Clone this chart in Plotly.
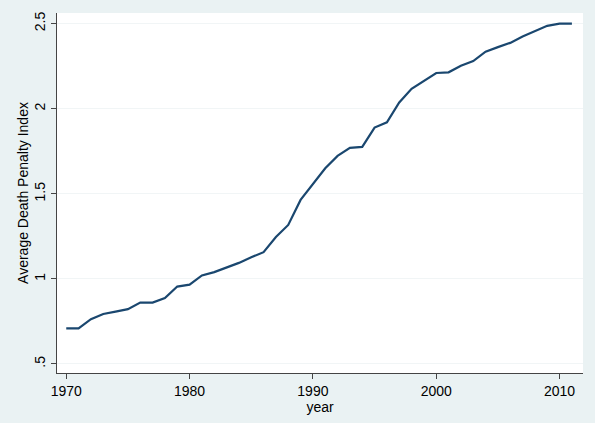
import plotly.graph_objects as go

years = list(range(1970, 2012))
index_vals = [0.709, 0.709, 0.763, 0.794, 0.808, 0.822, 0.861, 0.861, 0.888, 0.955,
              0.966, 1.020, 1.040, 1.067, 1.094, 1.127, 1.157, 1.246, 1.317, 1.464,
              1.556, 1.650, 1.723, 1.770, 1.776, 1.889, 1.920, 2.037, 2.117, 2.165,
              2.210, 2.214, 2.253, 2.280, 2.335, 2.362, 2.387, 2.424, 2.457, 2.487,
              2.500, 2.500]
y_ticks = [0.5, 1, 1.5, 2, 2.5]
y_ticklabels = [".5", "1", "1.5", "2", "2.5"]
x_ticks = [1970, 1980, 1990, 2000, 2010]

fig = go.Figure()
fig.add_trace(go.Scatter(x=years, y=index_vals, mode="lines",
                         line=dict(color="#1A476F", width=2.2), showlegend=False))

font = dict(family="Liberation Sans, Arial, sans-serif", size=14, color="#000000")
title_font = dict(family="Liberation Sans, Arial, sans-serif", size=14, color="#000000")
fig.update_layout(
    width=595, height=423,
    margin=dict(l=57, r=12, t=12, b=49),
    paper_bgcolor="#EAF2F3", plot_bgcolor="#FFFFFF",
    font=font,
    xaxis=dict(range=[1969.25, 2011.9], tickvals=x_ticks, ticks="outside", ticklen=5,
               tickcolor="#444", showline=True, linecolor="#444", linewidth=1.3,
               showgrid=False, zeroline=False,
               title=dict(text="year", standoff=2, font=title_font),
               tickfont=font),
    yaxis=dict(range=[0.447, 2.5625], tickvals=y_ticks, ticktext=y_ticklabels,
               tickangle=-90, ticks="outside", ticklen=5, tickcolor="#444",
               showline=True, linecolor="#444", linewidth=1.3,
               showgrid=True, gridcolor="#F1F5F6", gridwidth=1, zeroline=False,
               title=dict(text="Average Death Penalty Index", standoff=0, font=title_font),
               tickfont=font),
)
fig.write_html("out.html")
